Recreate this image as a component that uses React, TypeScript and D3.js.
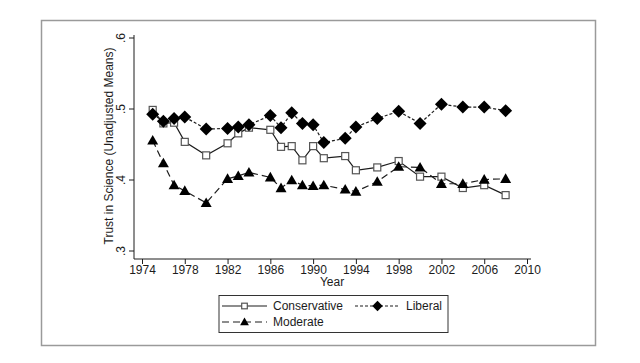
import * as d3 from 'd3';
import React, { useEffect, useRef } from 'react';

const years = [1975, 1976, 1977, 1978, 1980, 1982, 1983, 1984, 1986, 1987, 1988, 1989, 1990, 1991, 1993, 1994, 1996, 1998, 2000, 2002, 2004, 2006, 2008];
const conservative = [0.498, 0.479, 0.48, 0.453, 0.434, 0.451, 0.465, 0.473, 0.47, 0.446, 0.447, 0.427, 0.447, 0.43, 0.433, 0.413, 0.417, 0.426, 0.404, 0.404, 0.388, 0.392, 0.378];
const liberal = [0.492, 0.482, 0.486, 0.488, 0.471, 0.472, 0.474, 0.477, 0.49, 0.473, 0.494, 0.479, 0.477, 0.452, 0.458, 0.474, 0.486, 0.496, 0.479, 0.506, 0.502, 0.502, 0.497];
const moderate = [0.455, 0.423, 0.392, 0.384, 0.367, 0.401, 0.405, 0.41, 0.403, 0.388, 0.399, 0.392, 0.391, 0.392, 0.386, 0.383, 0.397, 0.418, 0.417, 0.394, 0.394, 0.4, 0.401];
const xTicks = [1974, 1978, 1982, 1986, 1990, 1994, 1998, 2002, 2006, 2010];
const yTicks = [0.3, 0.4, 0.5, 0.6];

function App() {
  const ref = useRef(null);

  useEffect(() => {
    const svg = d3.select(ref.current);
    svg.selectAll('*').remove();
    const font = 'Liberation Sans, Arial, sans-serif';
    const ink = '#1c1c1c';
    const fs = 12;

    const x = d3.scaleLinear().domain([1974, 2010]).range([142, 527]);
    const y = d3.scaleLinear().domain([0.3, 0.6]).range([250.5, 37.5]);

    // outer frame
    svg.append('rect').attr('x', 41.5).attr('y', 20.5).attr('width', 554).attr('height', 325)
      .attr('fill', 'none').attr('stroke', '#9a9a9a').attr('stroke-width', 1.5);

    // axes
    const xAxis = svg.append('g').attr('transform', 'translate(0,259)')
      .call(d3.axisBottom(x).tickValues(xTicks).tickFormat(d3.format('d')).tickSize(5).tickSizeOuter(0));
    xAxis.select('.domain').attr('d', 'M134,0H531').attr('stroke', ink);
    xAxis.selectAll('line').attr('stroke', ink);
    xAxis.selectAll('text').attr('font-family', font).attr('font-size', fs).attr('fill', ink).attr('dy', '0.55em');

    const yAxis = svg.append('g').attr('transform', 'translate(134,0)')
      .call(d3.axisLeft(y).tickValues(yTicks).tickFormat((d) => d3.format('.1f')(d).replace(/^0/, '')).tickSize(5).tickSizeOuter(0));
    yAxis.select('.domain').attr('d', 'M0,35V259').attr('stroke', ink);
    yAxis.selectAll('line').attr('stroke', ink);
    yAxis.selectAll('text')
      .attr('font-family', font).attr('font-size', fs).attr('fill', ink)
      .attr('x', 0).attr('dy', 0)
      .attr('transform', 'translate(-9,0) rotate(-90)')
      .attr('text-anchor', 'middle');

    svg.append('text').attr('x', 332).attr('y', 286).attr('text-anchor', 'middle')
      .attr('font-family', font).attr('font-size', fs).attr('fill', ink).text('Year');
    svg.append('text').attr('transform', 'translate(113,146) rotate(-90)').attr('text-anchor', 'middle')
      .attr('font-family', font).attr('font-size', fs).attr('fill', ink)
      .text('Trust in Science (Unadjusted Means)');

    const series = [
      { name: 'Conservative', values: conservative, dash: null, marker: 'square' },
      { name: 'Liberal', values: liberal, dash: '3,2', marker: 'diamond' },
      { name: 'Moderate', values: moderate, dash: '7,4', marker: 'triangle' },
    ];

    const drawMarker = (g, type, cx, cy, k = 1) => {
      if (type === 'square') {
        const h = 3.5 * k;
        g.append('rect').attr('x', cx - h).attr('y', cy - h).attr('width', 2 * h).attr('height', 2 * h)
          .attr('fill', '#fff').attr('stroke', '#555').attr('stroke-width', 1.2);
      } else if (type === 'diamond') {
        const h = 6.5 * k;
        g.append('path').attr('d', `M${cx},${cy - h}L${cx + h},${cy}L${cx},${cy + h}L${cx - h},${cy}Z`).attr('fill', '#000');
      } else {
        const h = 5.5 * k;
        g.append('path').attr('d', `M${cx},${cy - h}L${cx + h},${cy + h * 0.75}L${cx - h},${cy + h * 0.75}Z`).attr('fill', '#000');
      }
    };

    const line = d3.line().x((d) => x(d[0])).y((d) => y(d[1]));

    series.forEach((s) => {
      const pts = years.map((yr, i) => [yr, s.values[i]]);
      svg.append('path').attr('d', line(pts)).attr('fill', 'none').attr('stroke', ink)
        .attr('stroke-width', 1.2).attr('stroke-dasharray', s.dash);
    });
    series.forEach((s) => {
      const g = svg.append('g');
      years.forEach((yr, i) => drawMarker(g, s.marker, x(yr), y(s.values[i])));
    });

    // legend
    const lg = svg.append('g');
    lg.append('rect').attr('x', 219).attr('y', 295.5).attr('width', 229).attr('height', 37)
      .attr('fill', '#fff').attr('stroke', '#333').attr('stroke-width', 1);
    const items = [
      { s: series[0], x0: 222, y0: 306 },
      { s: series[1], x0: 355, y0: 306 },
      { s: series[2], x0: 222, y0: 322 },
    ];
    items.forEach(({ s, x0, y0 }) => {
      lg.append('line').attr('x1', x0).attr('x2', x0 + 45).attr('y1', y0).attr('y2', y0)
        .attr('stroke', ink).attr('stroke-width', 1.1).attr('stroke-dasharray', s.dash);
      drawMarker(lg, s.marker, x0 + 22.5, y0, 0.8);
      lg.append('text').attr('x', x0 + 51).attr('y', y0 + 4).attr('font-family', font).attr('font-size', fs)
        .attr('fill', ink).text(s.name);
    });
  }, []);

  return (
    <div>
      <svg ref={ref} width={640} height={363} style={{ position: 'absolute', left: 0, top: 0, display: 'block', background: '#fff' }}></svg>
    </div>
  );
}

export default App;
